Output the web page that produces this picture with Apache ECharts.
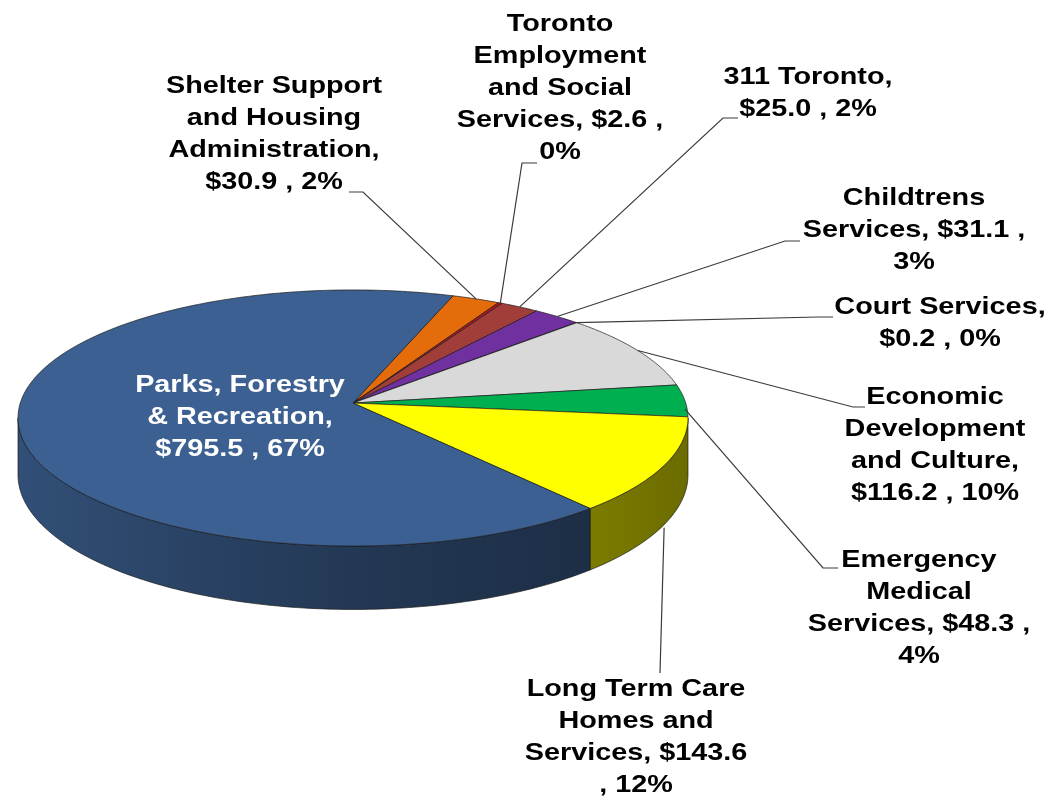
<!DOCTYPE html>
<html>
<head>
<meta charset="utf-8">
<title>Operating budget by program</title>
<script src="https://cdn.jsdelivr.net/npm/echarts@6/dist/echarts.min.js"></script>
<style>
  html, body { margin: 0; padding: 0; background: #ffffff; }
  #chart { width: 1049px; height: 802px; }
</style>
</head>
<body>
<div id="chart"></div>
<script>
// Programs, listed clockwise from the first slice
const categories = [
  'Shelter Support and Housing Administration',
  'Toronto Employment and Social Services',
  '311 Toronto',
  'Childtrens Services',
  'Court Services',
  'Economic Development and Culture',
  'Emergency Medical Services',
  'Long Term Care Homes and Services',
  'Parks, Forestry & Recreation'
];
// Amounts in $ millions
const values = [30.9, 2.6, 25.0, 31.1, 0.2, 116.2, 48.3, 143.6, 795.5];

// Slice fills
const sliceColors = ['#E46C0A', '#B3141B', '#A13E3A', '#7030A0', '#4BACC6',
                     '#D9D9D9', '#00B050', '#FFFF00', '#3C6091'];

// Label placement: centre x, first-row centre y, elbow, tail end,
// how far down the rim wall the leader starts, wrap width, text colour
const labelLayout = [
  { cx: 274, y: 86,  elbow: [363, 192], end: [349, 192], drop: 0,    wrap: 200, fill: '#000' },
  { cx: 560, y: 24,  elbow: [522, 163], end: [537, 163], drop: 0,    wrap: 190, fill: '#000' },
  { cx: 808, y: 77,  elbow: [723, 118], end: [738, 118], drop: 0,    wrap: 180, fill: '#000' },
  { cx: 914, y: 198, elbow: [785, 241], end: [800, 241], drop: 0,    wrap: 190, fill: '#000' },
  { cx: 940, y: 307, elbow: [818, 317], end: [833, 317], drop: 0,    wrap: 190, fill: '#000' },
  { cx: 935, y: 397, elbow: [853, 407], end: [865, 407], drop: 0,    wrap: 190, fill: '#000' },
  { cx: 919, y: 560, elbow: [823, 568], end: [838, 568], drop: 0.15, wrap: 190, fill: '#000' },
  { cx: 636, y: 689, elbow: [660, 673], end: [660, 673], drop: 1.05, wrap: 192, fill: '#000' },
  { cx: 240, y: 385, elbow: null,       end: null,       drop: 0,    wrap: 185, fill: '#fff' }
];

// Tilted disc seen in perspective: apex, half-axes, perspective factor, rim depth
const PIE = { cx: 353, cy: 403, a: 332.7, b: 126.3, k: 0.117, h: 56, start: 70.5 };
const FONT = 'bold 24px "Liberation Sans", Arial, sans-serif';
const LINE_H = 32;
const TEXT_SCALE_X = 1.2;
const EDGE = 'rgba(25,25,25,0.85)';

const total = values.reduce((s, v) => s + v, 0);
const cumulative = values.map((_, i) => values.slice(0, i).reduce((s, v) => s + v, 0));

// Whole-number percentages that add up to 100 (largest remainder)
function wholePercents(vals) {
  const raw = vals.map(v => v / total * 100);
  const out = raw.map(Math.floor);
  const left = 100 - out.reduce((s, v) => s + v, 0);
  const order = raw.map((r, i) => [r - Math.floor(r), i]).sort((p, q) => q[0] - p[0]);
  for (let j = 0; j < left; j++) out[order[j][1]] += 1;
  return out;
}
const percents = wholePercents(values);

function project(deg, drop) {
  const t = deg * Math.PI / 180;
  const u = Math.cos(t), w = Math.sin(t);
  const s = 1 / (1 + PIE.k * w);
  return [PIE.cx + PIE.a * u * s, PIE.cy - PIE.b * w * s + drop * PIE.h * s];
}
function arc(from, to, drop) {
  const n = Math.max(2, Math.ceil(Math.abs(to - from)) + 1);
  const pts = [];
  for (let j = 0; j < n; j++) pts.push(project(from + (to - from) * j / (n - 1), drop));
  return pts;
}
function shade(hex, f) {
  const n = parseInt(hex.slice(1), 16);
  const r = Math.round(((n >> 16) & 255) * f);
  const g = Math.round(((n >> 8) & 255) * f);
  const b = Math.round((n & 255) * f);
  return 'rgb(' + r + ',' + g + ',' + b + ')';
}
function wallFill(hex) {
  const half = PIE.a / Math.sqrt(1 - PIE.k * PIE.k);
  return new echarts.graphic.LinearGradient(PIE.cx - half, 0, PIE.cx + half, 0, [
    { offset: 0, color: shade(hex, 0.82) },
    { offset: 0.5, color: shade(hex, 0.58) },
    { offset: 0.87, color: shade(hex, 0.48) },
    { offset: 1, color: shade(hex, 0.42) }
  ], true);
}

// Greedy word wrap using the label font
const measureCtx = document.createElement('canvas').getContext('2d');
measureCtx.font = FONT;
function wrapText(text, width) {
  const words = text.split(' ');
  const lines = [];
  let line = '';
  words.forEach(word => {
    const trial = line ? line + ' ' + word : word;
    if (line && measureCtx.measureText(trial).width > width) {
      lines.push(line);
      line = word;
    } else {
      line = trial;
    }
  });
  if (line) lines.push(line);
  return lines.join('\n');
}

// Part of the rim that faces the viewer
const SIDE_LO = -180 + Math.asin(PIE.k) * 180 / Math.PI;
const SIDE_HI = -Math.asin(PIE.k) * 180 / Math.PI;

function renderItem(params, api) {
  const i = params.dataIndex;
  const v = api.value(0);
  const a0 = PIE.start - cumulative[i] / total * 360;
  const a1 = a0 - v / total * 360;
  const color = sliceColors[i];
  const children = [];

  [-360, 0, 360].forEach(shift => {
    const lo = Math.max(a1, SIDE_LO + shift);
    const hi = Math.min(a0, SIDE_HI + shift);
    if (hi - lo > 0.01) {
      children.push({
        type: 'polygon', z2: 1,
        shape: { points: arc(lo, hi, 0).concat(arc(hi, lo, 1)) },
        style: { fill: wallFill(color), stroke: EDGE, lineWidth: 0.8 }
      });
    }
  });

  children.push({
    type: 'polygon', z2: 2,
    shape: { points: [[PIE.cx, PIE.cy]].concat(arc(a0, a1, 0)) },
    style: { fill: color, stroke: EDGE, lineWidth: 0.8 }
  });

  const L = labelLayout[i];
  if (L.elbow) {
    const start = project((a0 + a1) / 2, L.drop);
    children.push({
      type: 'polyline', z2: 8,
      shape: { points: [start, L.elbow, L.end] },
      style: { stroke: '#3a3a3a', lineWidth: 1.2, fill: null }
    });
  }

  const label = categories[i] + ', $' + v.toFixed(1) + ' , ' + percents[i] + '%';
  children.push({
    type: 'text', z2: 10,
    x: L.cx, y: L.y - LINE_H / 2, scaleX: TEXT_SCALE_X,
    style: {
      text: wrapText(label, L.wrap),
      font: FONT, fill: L.fill,
      align: 'center', verticalAlign: 'top', lineHeight: LINE_H
    }
  });

  return { type: 'group', children: children };
}

const chart = echarts.init(document.getElementById('chart'), null, { renderer: 'canvas' });
chart.setOption({
  backgroundColor: '#ffffff',
  animation: false,
  series: [{
    type: 'custom',
    coordinateSystem: 'none',
    silent: true,
    renderItem: renderItem,
    data: values
  }]
});
</script>
</body>
</html>
